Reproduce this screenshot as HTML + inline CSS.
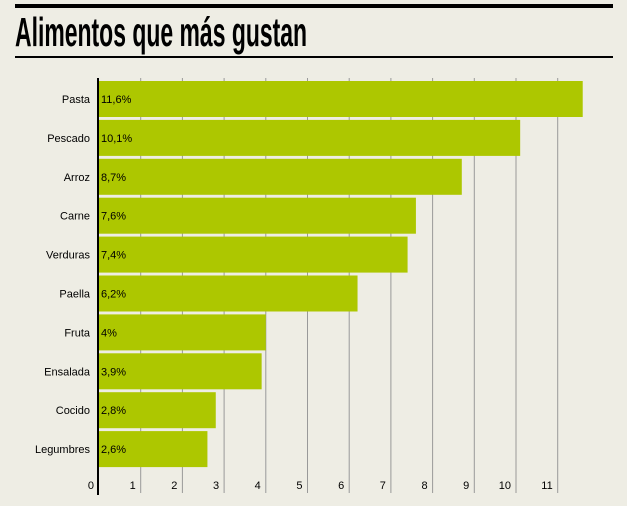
<!DOCTYPE html><html><head><style>
body{margin:0;background:#eeede4;width:627px;height:501px;overflow:hidden;font-family:"Liberation Sans",sans-serif}
</style></head><body>
<svg width="627" height="501">
<rect x="15" y="4" width="598" height="4" fill="#000"/>
<text x="15" y="46" font-family="Liberation Sans Narrow, Liberation Sans, sans-serif" font-weight="bold" font-size="41" transform="translate(15,0) scale(0.56,1) translate(-15,0)">Alimentos que más gustan</text>
<rect x="15" y="56" width="598" height="2" fill="#000"/>
<g id="grid"></g><g id="bars"></g><g id="ticks"></g>
<rect x="97" y="78" width="2" height="417" fill="#000"/>
</svg>
<script>
const categories=["Pasta","Pescado","Arroz","Carne","Verduras","Paella","Fruta","Ensalada","Cocido","Legumbres"];
const values=[11.6,10.1,8.7,7.6,7.4,6.2,4,3.9,2.8,2.6];
const valueLabels=["11,6%","10,1%","8,7%","7,6%","7,4%","6,2%","4%","3,9%","2,8%","2,6%"];
const ticks=[0,1,2,3,4,5,6,7,8,9,10,11];
const NS="http://www.w3.org/2000/svg";
const x=v=>99+v*41.7, y=i=>81+i*38.9;
function mk(t,a,p,txt){const e=document.createElementNS(NS,t);for(const k in a)e.setAttribute(k,a[k]);if(txt!=null)e.textContent=txt;document.getElementById(p).appendChild(e);return e;}
ticks.forEach(t=>{
 if(t>0){const g=mk("line",{x1:x(t),x2:x(t),y1:78,y2:493,stroke:"#999","stroke-width":1},"grid");
 
 }
 const l=mk("text",{x:x(t)-5,y:489,"font-size":11,"text-anchor":"end"},"ticks",t);
 
 
});
categories.forEach((c,i)=>{
 const r=mk("rect",{x:99,y:y(i),width:x(values[i])-99,height:36,fill:"#adc700"},"bars");
 
 
 const v=mk("text",{x:101,y:y(i)+22,"font-size":11},"bars",valueLabels[i]);
 
 
 const n=mk("text",{x:90,y:y(i)+22,"font-size":11,"text-anchor":"end"},"bars",c);
 
 
});
</script></body></html>
